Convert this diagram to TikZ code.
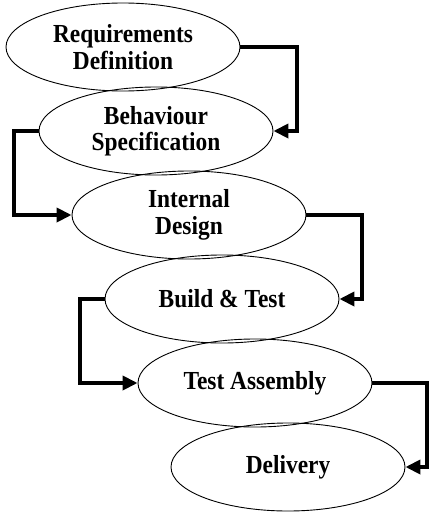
\documentclass[tikz,border=0pt]{standalone}
\usepackage{fontspec}
\setmainfont{Liberation Serif}[FakeStretch=0.9]
\usetikzlibrary{arrows.meta,positioning,shapes.geometric}

\begin{document}
\begin{tikzpicture}[
      font=\bfseries\fontsize{26}{26.5}\selectfont,
      node distance=84pt and 33pt,on grid,
      stage/.style={draw,ellipse,line width=0.9pt,align=center,inner sep=0pt,
                    minimum width=234pt,minimum height=88pt},
      arr/.style={-{Triangle[length=15pt,width=14pt]},line width=4pt}]
    \useasboundingbox (0,0) rectangle (446pt,-514pt);
    \node[stage] (req) at (123pt,-47pt) {Requirements\\Definition};
    \node[stage,below right=of req] (beh) {Behaviour\\Specification};
    \node[stage,below right=of beh] (design) {Internal\\Design};
    \node[stage,below right=of design] (build) {Build \& Test};
    \node[stage,below right=of build] (assembly) {Test Assembly};
    \node[stage,below right=of assembly] (delivery) {Delivery};
    \draw[arr] (req.east) -- ++(57pt,0) |- (beh.east);
    \draw[arr] (beh.west) -- ++(-25pt,0) |- (design.west);
    \draw[arr] (design.east) -- ++(56pt,0) |- (build.east);
    \draw[arr] (build.west) -- ++(-25pt,0) |- (assembly.west);
    \draw[arr] (assembly.east) -- ++(55pt,0) |- (delivery.east);
  \end{tikzpicture}
\end{document}
